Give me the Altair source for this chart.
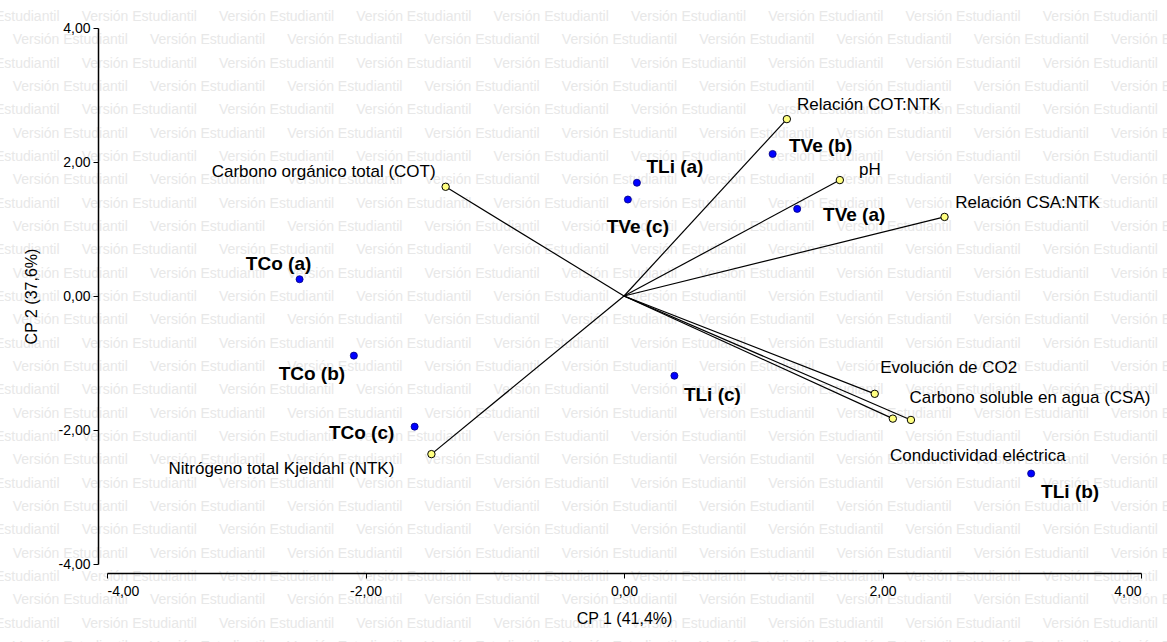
import altair as alt
import pandas as pd

# Treatment scores on the first two principal components
obs_names = ["TCo (a)", "TCo (b)", "TCo (c)", "TLi (a)", "TLi (b)", "TLi (c)",
             "TVe (a)", "TVe (b)", "TVe (c)"]
obs_cp1 = [-2.51, -2.09, -1.62, 0.10, 3.15, 0.39, 1.34, 1.15, 0.03]
obs_cp2 = [0.25, -0.89, -1.95, 1.69, -2.65, -1.19, 1.30, 2.12, 1.44]

# Variable loadings (vector tips) on the same components
var_names = ["Carbono orgánico total (COT)", "Nitrógeno total Kjeldahl (NTK)",
             "Relación COT:NTK", "pH", "Relación CSA:NTK", "Evolución de CO2",
             "Carbono soluble en agua (CSA)", "Conductividad eléctrica"]
var_cp1 = [-1.38, -1.49, 1.26, 1.67, 2.48, 1.94, 2.22, 2.08]
var_cp2 = [1.63, -2.36, 2.64, 1.73, 1.18, -1.46, -1.85, -1.83]

tick_values = [-4, -2, 0, 2, 4]
x_title = "CP 1 (41,4%)"
y_title = "CP 2 (37,6%)"
watermark = "Versión Estudiantil"

# Label placement (pixel offsets from each point, text centred)
obs_offsets = {
    "TCo (a)": (-21, -15), "TCo (b)": (-42, 18), "TCo (c)": (-53, 6),
    "TLi (a)": (38, -16), "TLi (b)": (39, 18), "TLi (c)": (38, 19),
    "TVe (a)": (57, 6), "TVe (b)": (48, -8), "TVe (c)": (10, 27),
}
var_offsets = {
    "Carbono orgánico total (COT)": (-122, -15),
    "Nitrógeno total Kjeldahl (NTK)": (-150, 15),
    "Relación COT:NTK": (82, -14),
    "pH": (30, -10),
    "Relación CSA:NTK": (83, -14),
    "Evolución de CO2": (74, -26),
    "Carbono soluble en agua (CSA)": (119, -22),
    "Conductividad eléctrica": (85, 37),
}

FONT = "Liberation Sans"
W, H = 1034, 536

obs = pd.DataFrame({"name": obs_names, "CP1": obs_cp1, "CP2": obs_cp2})
var = pd.DataFrame({"name": var_names, "CP1": var_cp1, "CP2": var_cp2})

# Tiled background text, laid out in axis units (alternate rows shifted half a step)
wm_rows = []
step_x, step_y = 1.0623, 0.3483
for k in range(28):
    y = 4.164 - k * step_y
    x = -4.196 - step_x - (k % 2) * 0.534
    for n in range(11):
        wm_rows.append({"wx": x + n * step_x, "wy": y, "t": watermark})
wm = pd.DataFrame(wm_rows)

label_expr = "replace(replace(format(datum.value, '.2f'), '.', ','), '\u2212', '-')"
xs = alt.Scale(domain=[-4, 4], nice=False, zero=False)
ys = alt.Scale(domain=[-4, 4], nice=False, zero=False)
x_axis = alt.Axis(values=tick_values, labelExpr=label_expr, offset=9, grid=False,
                  title=x_title, labelPadding=6, titlePadding=12, zindex=1)
y_axis = alt.Axis(values=tick_values, labelExpr=label_expr, offset=9, grid=False,
                  title=y_title, labelPadding=3, titlePadding=19, zindex=1)

bg = alt.Chart(wm).mark_text(align="left", baseline="middle", font=FONT,
                             fontSize=14, color="#e8e8e8").encode(
    x=alt.X("wx:Q", scale=xs, axis=x_axis),
    y=alt.Y("wy:Q", scale=ys, axis=y_axis),
    text="t:N",
)

vectors = alt.Chart(var).transform_calculate(x0="0", y0="0").mark_rule(
    color="black", strokeWidth=1.2).encode(
    x=alt.X("x0:Q", scale=xs, axis=x_axis),
    y=alt.Y("y0:Q", scale=ys, axis=y_axis),
    x2="CP1:Q", y2="CP2:Q",
)

var_pts = alt.Chart(var).mark_point(shape="circle", filled=True, size=55,
                                    fill="#ffff80", stroke="black",
                                    strokeWidth=1, opacity=1).encode(
    x=alt.X("CP1:Q", scale=xs, axis=x_axis),
    y=alt.Y("CP2:Q", scale=ys, axis=y_axis),
)

obs_pts = alt.Chart(obs).mark_point(shape="circle", filled=True, size=50,
                                    fill="#0000ff", stroke="#000080",
                                    strokeWidth=0.8, opacity=1).encode(
    x=alt.X("CP1:Q", scale=xs, axis=x_axis),
    y=alt.Y("CP2:Q", scale=ys, axis=y_axis),
)

layers = [bg, vectors, var_pts, obs_pts]

for name, (dx, dy) in var_offsets.items():
    layers.append(
        alt.Chart(var).transform_filter(alt.datum.name == name).mark_text(
            align="center", baseline="middle", dx=dx, dy=dy, font=FONT,
            fontSize=17, color="black").encode(
            x=alt.X("CP1:Q", scale=xs, axis=x_axis),
            y=alt.Y("CP2:Q", scale=ys, axis=y_axis),
            text="name:N",
        )
    )

for name, (dx, dy) in obs_offsets.items():
    layers.append(
        alt.Chart(obs).transform_filter(alt.datum.name == name).mark_text(
            align="center", baseline="middle", dx=dx, dy=dy, font=FONT,
            fontSize=19, fontWeight="bold", color="black").encode(
            x=alt.X("CP1:Q", scale=xs, axis=x_axis),
            y=alt.Y("CP2:Q", scale=ys, axis=y_axis),
            text="name:N",
        )
    )

chart = alt.layer(*layers).properties(
    width=W, height=H,
    autosize=alt.AutoSizeParams(type="none"),
    padding={"left": 107, "top": 28, "right": 26, "bottom": 78},
    background="white",
).configure_view(stroke=None).configure_axis(
    domainColor="black", domainWidth=1.5, tickColor="black", tickSize=5,
    tickWidth=1, labelFont=FONT, labelFontSize=14, labelColor="black",
    titleFont=FONT, titleFontSize=16, titleFontWeight="normal", titleColor="black",
)

chart.save("out.html", embed_options={"renderer": "svg", "actions": False})
